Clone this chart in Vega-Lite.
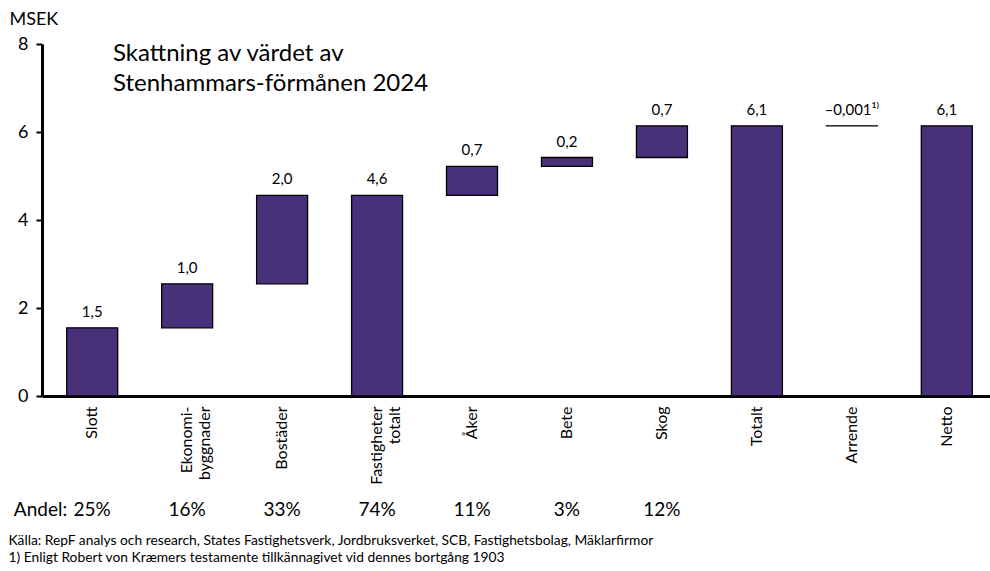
{
  "$schema": "https://vega.github.io/schema/vega-lite/v6.json",
  "autosize": "none",
  "padding": {"left": 42, "top": 44, "right": 0, "bottom": 175},
  "width": 955,
  "height": 352,
  "background": "white",
  "config": {"font": "Lato", "view": {"stroke": null}},
  "title": {
    "text": ["Skattning av värdet av", "Stenhammars-förmånen 2024"],
    "anchor": "start",
    "frame": "group",
    "orient": "top",
    "baseline": "top",
    "fontSize": 24,
    "fontWeight": "normal",
    "color": "black",
    "lineHeight": 30,
    "dx": 71,
    "dy": 90
  },
  "data": {
    "values": [
      {"cat": "Slott", "start": 0, "end": 1.55, "label": "1,5", "andel": "25%", "prefix": "Andel:"},
      {"cat": "Ekonomi-|byggnader", "start": 1.55, "end": 2.55, "label": "1,0", "andel": "16%", "prefix": ""},
      {"cat": "Bostäder", "start": 2.55, "end": 4.56, "label": "2,0", "andel": "33%", "prefix": ""},
      {"cat": "Fastigheter|totalt", "start": 0, "end": 4.56, "label": "4,6", "andel": "74%", "prefix": ""},
      {"cat": "Åker", "start": 4.56, "end": 5.22, "label": "0,7", "andel": "11%", "prefix": ""},
      {"cat": "Bete", "start": 5.22, "end": 5.42, "label": "0,2", "andel": "3%", "prefix": ""},
      {"cat": "Skog", "start": 5.42, "end": 6.14, "label": "0,7", "andel": "12%", "prefix": ""},
      {"cat": "Totalt", "start": 0, "end": 6.14, "label": "6,1", "andel": "", "prefix": ""},
      {"cat": "Arrende", "start": 6.14, "end": 6.139, "label": "–0,001¹⁾", "andel": "", "prefix": ""},
      {"cat": "Netto", "start": 0, "end": 6.14, "label": "6,1", "andel": "", "prefix": ""}
    ]
  },
  "encoding": {
    "x": {
      "field": "cat",
      "type": "nominal",
      "sort": null,
      "scale": {"paddingInner": 0.463, "paddingOuter": 0.26},
      "axis": {
        "labelAngle": 270,
        "labelAlign": "right",
        "labelBaseline": "middle",
        "labelExpr": "split(datum.label, '|')",
        "labelFontSize": 16,
        "labelColor": "black",
        "labelPadding": 10,
        "labelLineHeight": 18,
        "ticks": false,
        "domainColor": "black",
        "domainWidth": 3,
        "title": ["Källa: RepF analys och research, States Fastighetsverk, Jordbruksverket, SCB, Fastighetsbolag, Mäklarfirmor", "1) Enligt Robert von Kræmers testamente tillkännagivet vid dennes bortgång 1903"],
        "titleFontSize": 13.8,
        "titleFontWeight": "normal",
        "titleColor": "black",
        "titleAnchor": "start",
        "titleAlign": "left",
        "titleBaseline": "top",
        "titleLineHeight": 17,
        "titleX": -34,
        "titleY": 137
      }
    }
  },
  "layer": [
    {
      "mark": {"type": "bar", "color": "#48307a", "stroke": "black", "strokeWidth": 1.3},
      "encoding": {
        "y": {
          "field": "start",
          "type": "quantitative",
          "scale": {"domain": [0, 8], "nice": false},
          "axis": {
            "values": [0, 2, 4, 6, 8],
            "grid": false,
            "labelFontSize": 18,
            "labelColor": "black",
            "labelPadding": 8,
            "tickColor": "black",
            "tickWidth": 2,
            "tickSize": 6,
            "domainColor": "black",
            "domainWidth": 3,
            "title": "MSEK",
            "titleAngle": 0,
            "titleFontSize": 18,
            "titleFontWeight": "normal",
            "titleColor": "black",
            "titleAlign": "left",
            "titleBaseline": "bottom",
            "titleX": -33,
            "titleY": -16
          }
        },
        "y2": {"field": "end"}
      }
    },
    {
      "mark": {"type": "text", "baseline": "bottom", "dy": -8, "fontSize": 15, "color": "black"},
      "encoding": {
        "y": {"field": "end", "type": "quantitative"},
        "text": {"field": "label"}
      }
    },
    {
      "mark": {"type": "text", "baseline": "middle", "fontSize": 19, "color": "black"},
      "encoding": {
        "y": {"datum": -2.6, "type": "quantitative"},
        "text": {"field": "andel"}
      }
    },
    {
      "mark": {"type": "text", "baseline": "middle", "align": "right", "dx": -25, "fontSize": 19, "color": "black"},
      "encoding": {
        "y": {"datum": -2.6, "type": "quantitative"},
        "text": {"field": "prefix"}
      }
    }
  ]
}
